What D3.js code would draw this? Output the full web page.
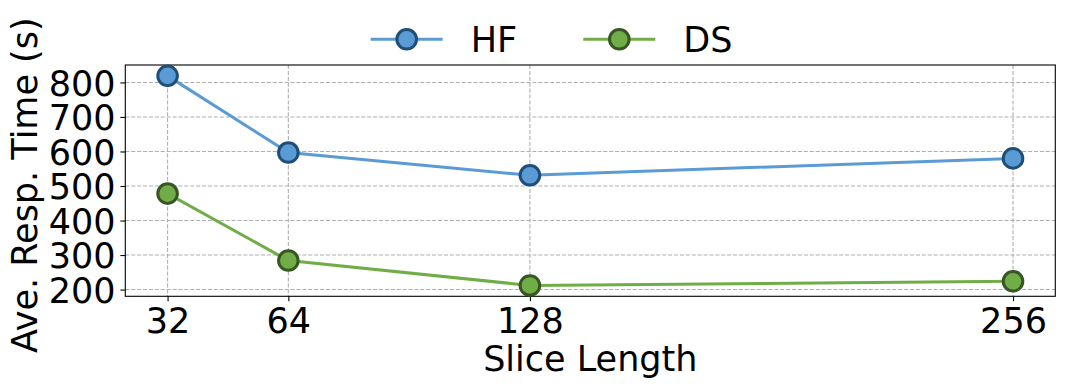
<!DOCTYPE html>
<html><head><meta charset="utf-8">
<script src="https://cdn.jsdelivr.net/npm/d3@7"></script>
<style>
html,body{margin:0;padding:0;background:#fff;}
svg{display:block;font-family:"DejaVu Sans",sans-serif;}
</style></head>
<body><svg id="chart" width="1065" height="389"></svg>
<script>
const sliceLengths = [32, 64, 128, 256];
const hfValues = [819, 597, 531, 580];
const dsValues = [478, 284, 212, 224];
const yTicks = [200, 300, 400, 500, 600, 700, 800];
const seriesNames = ["HF", "DS"];
const lineColors = ["#5b9bd5", "#70ad47"];
const edgeColors = ["#1f4e79", "#375623"];

const svg = d3.select("#chart");
const pLeft = 125.3, pRight = 1055.3, pTop = 65, pBottom = 296.3;
const fs = 35;

const x = d3.scaleLinear().domain([20.8, 267.2]).range([pLeft, pRight]);
const y = d3.scaleLinear().domain([180.5, 850.5]).range([pBottom, pTop]);

// grid
const grid = svg.append("g");
grid.selectAll("line.gy").data(yTicks).enter().append("line")
  .attr("x1", pLeft).attr("x2", pRight)
  .attr("y1", d => y(d)).attr("y2", d => y(d))
  .attr("stroke", "#b0b0b0").attr("stroke-width", 1.1).attr("stroke-dasharray", "4.1,1.8");
grid.selectAll("line.gx").data(sliceLengths).enter().append("line")
  .attr("x1", d => x(d)).attr("x2", d => x(d))
  .attr("y1", pTop).attr("y2", pBottom)
  .attr("stroke", "#b0b0b0").attr("stroke-width", 1.1).attr("stroke-dasharray", "4.1,1.8");

// axes
const xAxis = d3.axisBottom(x).tickValues(sliceLengths).tickSize(4.9).tickPadding(4.9).tickFormat(d3.format("d"));
const yAxis = d3.axisLeft(y).tickValues(yTicks).tickSize(4.9).tickPadding(4.9).tickFormat(d3.format("d"));
const gx = svg.append("g").attr("transform", `translate(0,${pBottom})`).call(xAxis);
const gy = svg.append("g").attr("transform", `translate(${pLeft},0)`).call(yAxis);
[gx, gy].forEach(g => {
  g.select(".domain").remove();
  g.selectAll("line").attr("stroke", "#000").attr("stroke-width", 1.1);
  g.selectAll("text").attr("font-size", fs).attr("font-family", "DejaVu Sans").attr("fill", "#000");
});
gx.selectAll("text").attr("dy", null).attr("y", 36.4);
gy.selectAll("text").attr("dy", "0.36em");

// frame
svg.append("rect").attr("x", pLeft).attr("y", pTop).attr("width", pRight - pLeft).attr("height", pBottom - pTop)
  .attr("fill", "none").attr("stroke", "#000").attr("stroke-width", 1.1);

// series
const allSeries = [hfValues, dsValues];
const line = d3.line().x((d, i) => x(sliceLengths[i])).y(d => y(d));
allSeries.forEach((vals, k) => {
  svg.append("path").datum(vals).attr("d", line)
    .attr("fill", "none").attr("stroke", lineColors[k]).attr("stroke-width", 3);
  svg.selectAll(null).data(vals).enter().append("circle")
    .attr("cx", (d, i) => x(sliceLengths[i])).attr("cy", d => y(d)).attr("r", 9.8)
    .attr("fill", lineColors[k]).attr("stroke", edgeColors[k]).attr("stroke-width", 3);
});

// axis labels
svg.append("text").attr("x", (pLeft + pRight) / 2).attr("y", 371.3).attr("text-anchor", "middle")
  .attr("font-size", fs).text("Slice Length");
svg.append("text").attr("transform", `translate(36.5,185.2) rotate(-90)`)
  .attr("text-anchor", "middle").attr("font-size", fs).text("Ave. Resp. Time (s)");

// legend
const legX = [370.7, 583.3];
seriesNames.forEach((name, k) => {
  const g = svg.append("g");
  g.append("line").attr("x1", legX[k]).attr("x2", legX[k] + 72).attr("y1", 39.3).attr("y2", 39.3)
    .attr("stroke", lineColors[k]).attr("stroke-width", 3);
  g.append("circle").attr("cx", legX[k] + 36).attr("cy", 39.3).attr("r", 9.8)
    .attr("fill", lineColors[k]).attr("stroke", edgeColors[k]).attr("stroke-width", 3);
  g.append("text").attr("x", legX[k] + 100).attr("y", 51.8).attr("font-size", fs).text(name);
});
</script></body></html>
